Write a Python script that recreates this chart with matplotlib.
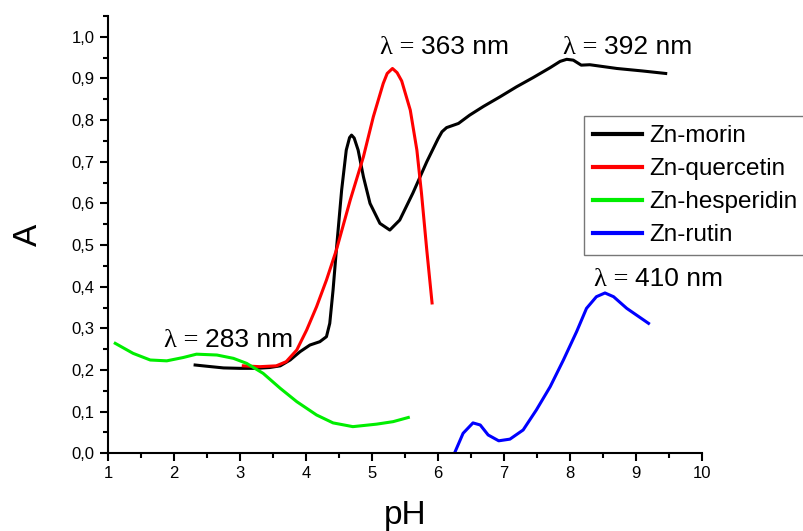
import matplotlib
matplotlib.use("Agg")
import matplotlib.pyplot as plt
from matplotlib.ticker import MultipleLocator, FuncFormatter

plt.rcParams['font.family'] = ['Liberation Sans', 'DejaVu Sans']

# Zn-morin
ph_morin = [2.32, 2.5, 2.75, 3.0, 3.25, 3.45, 3.61, 3.76, 3.91, 4.06, 4.21, 4.31, 4.36, 4.41, 4.46,
            4.54, 4.61, 4.66, 4.69, 4.73, 4.79, 4.87, 4.97, 5.12, 5.27, 5.42, 5.62, 5.83, 6.0, 6.06,
            6.13, 6.31, 6.48, 6.69, 6.94, 7.19, 7.44, 7.70, 7.85, 7.95, 8.05, 8.12, 8.17,
            8.30, 8.71, 9.1, 9.45]
a_morin = [0.212, 0.209, 0.205, 0.204, 0.204, 0.206, 0.210, 0.224, 0.244, 0.260, 0.268, 0.280, 0.312, 0.392, 0.488,
           0.632, 0.728, 0.758, 0.764, 0.757, 0.728, 0.664, 0.600, 0.552, 0.536, 0.560, 0.625, 0.700, 0.755, 0.772,
           0.782, 0.792, 0.812, 0.833, 0.856, 0.880, 0.902, 0.926, 0.941, 0.946, 0.944, 0.937, 0.932,
           0.933, 0.924, 0.918, 0.912]

# Zn-quercetin
ph_querc = [3.05, 3.3, 3.55, 3.70, 3.86, 4.01, 4.16, 4.31, 4.46, 4.67, 4.87, 5.02, 5.17, 5.23, 5.31,
            5.38, 5.45, 5.58, 5.68, 5.75, 5.83, 5.91]
a_querc = [0.210, 0.208, 0.210, 0.220, 0.248, 0.296, 0.352, 0.416, 0.488, 0.608, 0.712, 0.808, 0.888, 0.912, 0.924,
           0.914, 0.894, 0.824, 0.728, 0.624, 0.488, 0.361]

# Zn-hesperidin
ph_hesp = [1.11, 1.38, 1.64, 1.89, 2.14, 2.34, 2.65, 2.90, 3.10, 3.35, 3.61, 3.86, 4.16, 4.41,
           4.71, 5.07, 5.32, 5.55]
a_hesp = [0.264, 0.240, 0.224, 0.222, 0.230, 0.238, 0.236, 0.228, 0.216, 0.192, 0.156, 0.124, 0.092, 0.073,
          0.064, 0.070, 0.076, 0.086]

# Zn-rutin
ph_rutin = [6.26, 6.38, 6.53, 6.64, 6.76, 6.92, 7.09, 7.29, 7.49, 7.70, 7.90, 8.10, 8.25, 8.40,
            8.53, 8.66, 8.86, 9.19]
a_rutin = [0.004, 0.048, 0.073, 0.068, 0.044, 0.030, 0.034, 0.056, 0.104, 0.160, 0.224, 0.292, 0.348, 0.376,
           0.385, 0.376, 0.348, 0.312]

series_names = ['Zn-morin', 'Zn-quercetin', 'Zn-hesperidin', 'Zn-rutin']
series_colors = ['#000000', '#ff0000', '#00ee00', '#0000ff']

# wavelength labels
lam_x = [5.74, 8.52, 2.47, 8.98]
lam_y = [0.958, 0.958, 0.255, 0.402]
lam_txt = ['363 nm', '392 nm', '283 nm', '410 nm']

fig = plt.figure(figsize=(8.04, 5.31), dpi=100)
ax = fig.add_axes([108 / 804, 1 - 453.3 / 531, (702 - 108) / 804, (453.3 - 16) / 531])

data = [(ph_morin, a_morin), (ph_querc, a_querc), (ph_hesp, a_hesp), (ph_rutin, a_rutin)]
for (xs, ys), name, col in zip(data, series_names, series_colors):
    ax.plot(xs, ys, color=col, lw=2.2, label=name, solid_joinstyle='round')

ax.set_xlim(1, 10)
ax.set_ylim(0, 1.05)
ax.spines['top'].set_visible(False)
ax.spines['right'].set_visible(False)
for s in ('left', 'bottom'):
    ax.spines[s].set_linewidth(1.5)

ax.xaxis.set_major_locator(MultipleLocator(1))
ax.xaxis.set_minor_locator(MultipleLocator(0.5))
ax.yaxis.set_major_locator(MultipleLocator(0.1))
ax.yaxis.set_minor_locator(MultipleLocator(0.05))
ax.yaxis.set_major_formatter(FuncFormatter(lambda v, p: ('%.1f' % v).replace('.', ',')))
ax.tick_params(which='major', direction='out', length=6, width=1.5, labelsize=12)
ax.tick_params(which='minor', direction='out', length=3.5, width=1.5)

ax.set_xlabel('pH', fontsize=24, labelpad=13)
ax.set_ylabel('A', fontsize=24, labelpad=20)

for x, y, t in zip(lam_x, lam_y, lam_txt):
    ax.text(x, y, 'λ = ', fontsize=19, family=['Liberation Serif', 'DejaVu Serif'],
            ha='right', va='baseline')
    ax.text(x, y, t, fontsize=19, ha='left', va='baseline')

leg = fig.legend(loc='upper left', bbox_to_anchor=(584 / 804, 1 - 116 / 531),
                 fontsize=17.5, frameon=True, fancybox=False, handlelength=2.0,
                 handletextpad=0.3, labelspacing=0.45, borderpad=0.38, borderaxespad=0)
leg.get_frame().set_edgecolor('#555555')
leg.get_frame().set_linewidth(1.0)
for h in leg.get_lines():
    h.set_linewidth(3)

fig.savefig('out.png', dpi=100)
